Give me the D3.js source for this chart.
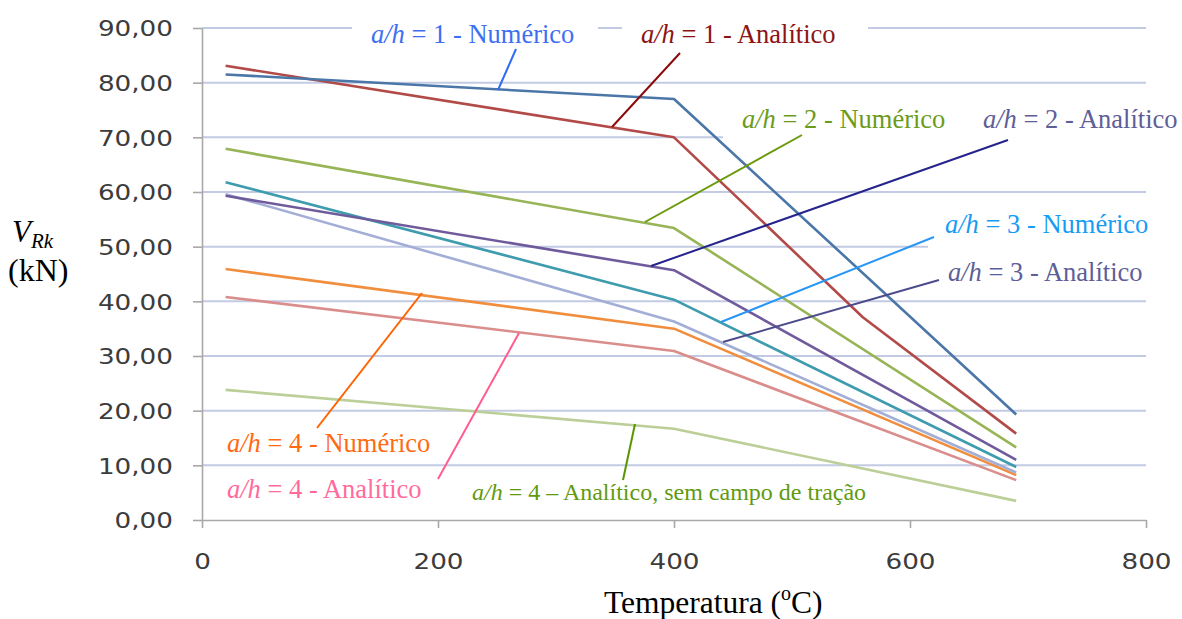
<!DOCTYPE html>
<html>
<head>
<meta charset="utf-8">
<script src="https://cdn.jsdelivr.net/npm/d3@7"></script>
<style>
  html, body { margin: 0; padding: 0; background: #ffffff; }
  svg { display: block; }
</style>
</head>
<body>
<svg id="chart" width="1182" height="619"></svg>
<script>
// Temperatures (°C) at which the shear resistance was evaluated
const temps = [20, 400, 690];
const tempsAnal1 = [20, 400, 560, 690];

// Shear resistance V_Rk (kN) for each web aspect ratio a/h
const num1 = [81.5, 77.0, 19.3];
const anal1 = [83.1, 70.0, 37.1, 15.8];
const num2 = [67.9, 53.4, 13.3];
const anal2 = [59.3, 45.7, 11.0];
const num3 = [61.8, 40.3, 9.7];
const anal3 = [59.6, 36.3, 8.7];
const num4 = [45.9, 35.0, 8.2];
const anal4 = [40.8, 30.9, 7.3];
const anal4NoTension = [23.8, 16.7, 3.5];

// Axis ticks
const yTicks = [0, 10, 20, 30, 40, 50, 60, 70, 80, 90];
const xTicks = [0, 200, 400, 600, 800];

const series = [
  { x: temps, y: anal4NoTension, color: "#bccf98" },
  { x: temps, y: anal4, color: "#d98e8c" },
  { x: temps, y: num4, color: "#f08e3e" },
  { x: temps, y: anal3, color: "#a2aed6" },
  { x: temps, y: num3, color: "#3f9cae" },
  { x: temps, y: anal2, color: "#6f5b9c" },
  { x: temps, y: num2, color: "#97b456" },
  { x: tempsAnal1, y: anal1, color: "#b24a48" },
  { x: temps, y: num1, color: "#4b76a8" }
];

const svg = d3.select("#chart");
const x = d3.scaleLinear().domain([0, 800]).range([202, 1146]);
const y = d3.scaleLinear().domain([0, 90]).range([520, 28]);

const fmt = v => d3.format(".2f")(v).replace(".", ",");
const axisColor = "#a8a8a8";

// Horizontal gridlines
svg.append("g").selectAll("line")
  .data(yTicks.filter(d => d > 0))
  .join("line")
  .attr("x1", x(0)).attr("x2", x(800))
  .attr("y1", d => y(d)).attr("y2", d => y(d))
  .attr("stroke", "#c3cbe4").attr("stroke-width", 2);

// Y axis
const gy = svg.append("g").attr("transform", `translate(${x(0)},0)`)
  .call(d3.axisLeft(y).tickValues(yTicks).tickFormat(fmt).tickSize(9).tickSizeOuter(0));
gy.select(".domain").attr("stroke", axisColor).attr("stroke-width", 1.6);
gy.selectAll(".tick line").attr("stroke", axisColor).attr("stroke-width", 1.6);
gy.selectAll(".tick text")
  .attr("x", null).attr("dy", null)
  .attr("dominant-baseline", "central")
  .attr("text-anchor", "end")
  .attr("transform", "translate(-29,1) scale(1.28,1)")
  .attr("fill", "#3c3c3c")
  .style("font-family", "'DejaVu Sans', sans-serif")
  .style("font-size", "20.5px");

// X axis
const gx = svg.append("g").attr("transform", `translate(0,${y(0)})`)
  .call(d3.axisBottom(x).tickValues(xTicks).tickFormat(d3.format("d")).tickSize(8).tickSizeOuter(0));
gx.select(".domain").attr("stroke", axisColor).attr("stroke-width", 1.6);
gx.selectAll(".tick line").attr("stroke", axisColor).attr("stroke-width", 1.6);
gx.selectAll(".tick text")
  .attr("y", null).attr("dy", null)
  .attr("dominant-baseline", "central")
  .attr("text-anchor", "middle")
  .attr("transform", "translate(0,42) scale(1.28,1)")
  .attr("fill", "#3c3c3c")
  .style("font-family", "'DejaVu Sans', sans-serif")
  .style("font-size", "20.5px");

// White panels behind the labels that sit over gridlines
const panels = [
  [352, 8, 246, 44],
  [622, 8, 246, 44],
  [723, 100, 430, 50],
  [928, 205, 222, 50]
];
svg.append("g").selectAll("rect").data(panels).join("rect")
  .attr("x", d => d[0]).attr("y", d => d[1])
  .attr("width", d => d[2]).attr("height", d => d[3])
  .attr("fill", "#ffffff");

// Data lines
const line = d3.line().x(d => x(d[0])).y(d => y(d[1]));
svg.append("g").selectAll("path").data(series).join("path")
  .attr("d", s => line(s.x.map((t, i) => [t, s.y[i]])))
  .attr("fill", "none")
  .attr("stroke", s => s.color)
  .attr("stroke-width", 2.6)
  .attr("stroke-linejoin", "round");

// Labels with leader lines
const labels = [
  { rest: " = 1 - Numérico", tx: 371, ty: 43, color: "#3d6ff2", lead: [516, 49, 498, 90], lc: "#2f6bf5", size: 26.5 },
  { rest: " = 1 - Analítico", tx: 641, ty: 43, color: "#8c1414", lead: [680, 53, 612, 127], lc: "#8b0b0b", size: 26.5 },
  { rest: " = 2 - Numérico", tx: 742, ty: 128, color: "#6b9b1a", lead: [802, 135, 645, 222], lc: "#6a9a0c", size: 26.5 },
  { rest: " = 2 - Analítico", tx: 983, ty: 128, color: "#5e5e98", lead: [1008, 140, 651, 266], lc: "#24248c", size: 26.5 },
  { rest: " = 3 - Numérico", tx: 945, ty: 233, color: "#179cf4", lead: [934, 237, 721, 322], lc: "#2896f4", size: 26.5 },
  { rest: " = 3 - Analítico", tx: 948, ty: 281, color: "#5e5e98", lead: [939, 280, 723, 342], lc: "#4c4c8c", size: 26.5 },
  { rest: " = 4 - Numérico", tx: 227, ty: 452, color: "#ff6a12", lead: [317, 428, 422, 293], lc: "#ff6200", size: 26.5 },
  { rest: " = 4 - Analítico", tx: 227, ty: 498, color: "#ff6b9c", lead: [438, 479, 519, 333], lc: "#ff5b8c", size: 26.5 },
  { rest: " = 4 – Analítico, sem campo de tração", tx: 472, ty: 500, color: "#5f9a10", lead: [623, 480, 635, 424], lc: "#5a9500", size: 24 }
];

svg.append("g").selectAll("line").data(labels).join("line")
  .attr("x1", d => d.lead[0]).attr("y1", d => d.lead[1])
  .attr("x2", d => d.lead[2]).attr("y2", d => d.lead[3])
  .attr("stroke", d => d.lc).attr("stroke-width", 2);

const lt = svg.append("g").selectAll("text").data(labels).join("text")
  .attr("x", d => d.tx).attr("y", d => d.ty)
  .attr("fill", d => d.color)
  .style("font-family", "'Liberation Serif', 'Times New Roman', serif")
  .style("font-size", d => d.size + "px");
lt.append("tspan").attr("font-style", "italic").text("a/h");
lt.append("tspan").text(d => d.rest);

// Axis titles
const serif = "'Liberation Serif', 'Times New Roman', serif";
const vt = svg.append("text").attr("x", 12).attr("y", 242)
  .style("font-family", serif).style("font-size", "31px").attr("fill", "#000");
vt.append("tspan").attr("font-style", "italic").text("V");
vt.append("tspan").attr("font-style", "italic").attr("font-size", "21px").attr("dy", 6).text("Rk");

svg.append("text").attr("x", 8).attr("y", 281)
  .style("font-family", serif).style("font-size", "32px").attr("fill", "#000")
  .text("(kN)");

const xt = svg.append("text").attr("x", 604).attr("y", 613)
  .style("font-family", serif).style("font-size", "31.5px").attr("fill", "#000");
xt.append("tspan").text("Temperatura (");
xt.append("tspan").attr("font-size", "20px").attr("dy", -13).text("o");
xt.append("tspan").attr("dy", 13).text("C)");
</script>
</body>
</html>
